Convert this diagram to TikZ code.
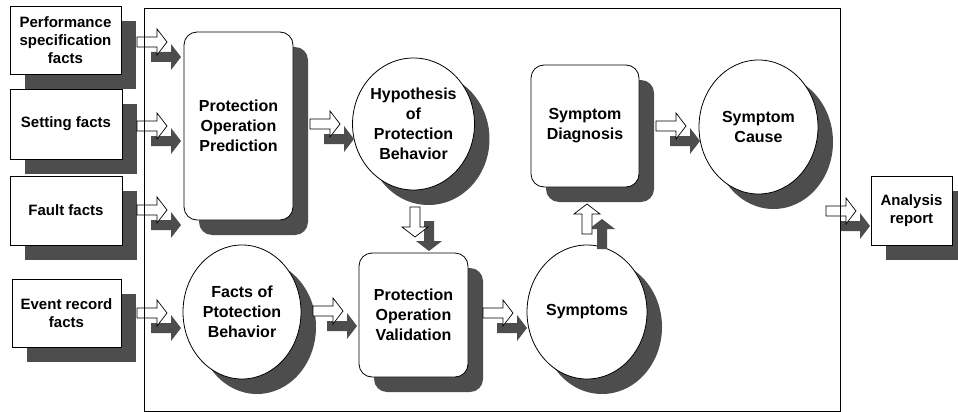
\documentclass[tikz,border=0pt]{standalone}
\usepackage{fontspec}
\setmainfont{Liberation Sans}
\usetikzlibrary{shapes.geometric,shadows}
\definecolor{shade}{RGB}{77,77,77}

\tikzset{
  shadowed/.style={drop shadow={shadow xshift=15pt, shadow yshift=-15pt,
      fill=shade, opacity=1, draw=none}},
  factbox/.style={rectangle, draw=black, line width=0.8pt, fill=white, shadowed,
      inner sep=0pt, align=center, font=\fontsize{15}{18}\selectfont\bfseries},
  procbox/.style={rectangle, rounded corners=13pt, draw=black, line width=0.8pt,
      fill=white, shadowed, inner sep=0pt, align=center,
      font=\fontsize{16}{20}\selectfont\bfseries},
  stateoval/.style={ellipse, draw=black, line width=0.8pt, fill=white, shadowed,
      inner sep=0pt, minimum width=119pt, minimum height=134pt, align=center,
      font=\fontsize{16}{20}\selectfont\bfseries},
  lightarrow/.style={draw=black, line width=0.7pt, fill=white, line join=miter},
  darkarrow/.style={fill=shade},
  pics/blockarrow/.style={code={
      \path[#1] (0,-5) -- (20,-5) -- (20,-13) -- (30,0) -- (20,13)
        -- (20,5) -- (0,5) -- cycle;}},
}

\begin{document}
\begin{tikzpicture}[x=1pt, y=-1pt]
\useasboundingbox[fill=white] (0,0) rectangle (958,412);

% input facts
\node[factbox, minimum width=111pt, minimum height=68pt] (perf) at (65.5,40)
  {Performance\\specification\\facts};
\node[factbox, minimum width=112pt, minimum height=70pt] (setting) at (66,124)
  {Setting facts};
\node[factbox, minimum width=112pt, minimum height=69pt] (fault) at (66,210.5)
  {Fault facts};
\node[factbox, minimum width=109pt, minimum height=68pt] (event) at (66.5,313)
  {Event record\\facts};

% reasoning stages
\node[procbox, minimum width=109pt, minimum height=188pt] (pred) at (238.5,126)
  {Protection\\Operation\\Prediction};
\node[stateoval, minimum width=117pt, minimum height=132pt] (hyp) at (413.5,124)
  {Hypothesis\\of\\Protection\\Behavior};
\node[stateoval, minimum width=118pt] (facts) at (242,312)
  {Facts of\\Ptotection\\Behavior};
\node[procbox, minimum width=109pt, minimum height=124pt] (valid) at (413.5,315)
  {Protection\\Operation\\Validation};
\node[stateoval, minimum width=120pt] (sympt) at (587,312) {Symptoms};
\node[procbox, minimum width=108pt, minimum height=122pt] (diag) at (585,126)
  {Symptom\\Diagnosis};
\node[stateoval] (cause) at (758.5,127) {Symptom\\Cause};

% output
\node[factbox, minimum width=81pt, minimum height=69pt] (report) at (911.5,210.5)
  {Analysis\\report};

% flow arrows: shaded copy first, outlined arrow on top
\foreach \x/\y in {137/42, 137/126, 137/210, 137/313, 310/124, 313/311,
                   483/313, 656/126, 826/211}{
  \pic at (\x+14,\y+15) {blockarrow=darkarrow};
  \pic at (\x,\y) {blockarrow=lightarrow};
}
% hypothesis down to validation
\pic[rotate=-90] at (429,221) {blockarrow=darkarrow};
\pic[rotate=-90] at (415,207) {blockarrow=lightarrow};
% symptoms up to diagnosis
\pic[rotate=90] at (602,249) {blockarrow=darkarrow};
\pic[rotate=90] at (587,234) {blockarrow=lightarrow};

% system boundary
\draw[line width=1pt] (144,9) rectangle (840,411);
\end{tikzpicture}
\end{document}
